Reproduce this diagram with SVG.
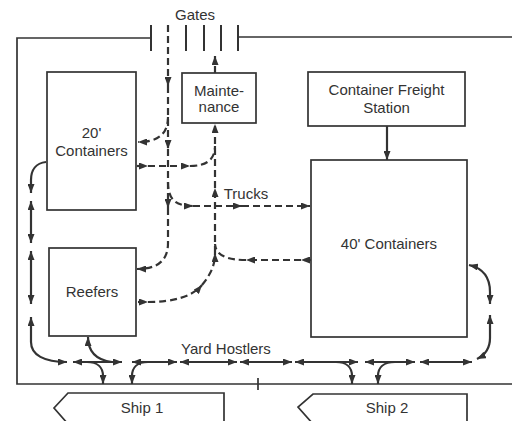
<svg xmlns="http://www.w3.org/2000/svg" width="512" height="421" viewBox="0 0 512 421">
<style>
.box{fill:#fff;stroke:#333;stroke-width:1.7}
.wall{fill:none;stroke:#333;stroke-width:1.7}
.post{stroke:#333;stroke-width:2}
.t{font-family:"Liberation Sans",Arial,sans-serif;font-size:15px;fill:#333;text-anchor:middle}
.truck{fill:none;stroke:#333;stroke-width:2.2;stroke-dasharray:7 4}
.yard{fill:none;stroke:#333;stroke-width:2.2}
.e{marker-end:url(#ah)}
.b{marker-start:url(#ah);marker-end:url(#ah)}
</style>
<defs>
<marker id="ah" viewBox="0 0 9 7" refX="9" refY="3.5" markerWidth="9" markerHeight="7" markerUnits="userSpaceOnUse" orient="auto-start-reverse">
<path d="M0,0 L9,3.5 L0,7 z" fill="#333"/>
</marker>
</defs>
<rect width="512" height="421" fill="#fff"/>

<g id="wall">
<path class="wall" d="M151,38 H17 V384 H512"/>
<path class="wall" d="M238,37 H512"/>
<path class="wall" d="M258,378 V390"/>
</g>

<g id="gates">
<line class="post" x1="151" y1="25" x2="151" y2="51"/>
<line class="post" x1="186" y1="25" x2="186" y2="51"/>
<line class="post" x1="204" y1="25" x2="204" y2="51"/>
<line class="post" x1="221" y1="25" x2="221" y2="51"/>
<line class="post" x1="238" y1="25" x2="238" y2="51"/>
<text class="t" x="195" y="20">Gates</text>
</g>

<g id="maintenance">
<rect class="box" x="182" y="73" width="74" height="50"/>
<text class="t" x="219" y="96">Mainte-</text>
<text class="t" x="219" y="112">nance</text>
</g>

<g id="c20">
<rect class="box" x="47" y="72" width="89" height="138"/>
<text class="t" x="91.5" y="138">20'</text>
<text class="t" x="91.5" y="156">Containers</text>
</g>

<g id="reefers">
<rect class="box" x="49" y="248" width="87" height="88"/>
<text class="t" x="92" y="297">Reefers</text>
</g>

<g id="cfs">
<rect class="box" x="308" y="72" width="157" height="54"/>
<text class="t" x="386.5" y="95">Container Freight</text>
<text class="t" x="386.5" y="113">Station</text>
</g>

<g id="c40">
<rect class="box" x="311" y="160" width="156" height="177"/>
<text class="t" x="389" y="249">40' Containers</text>
</g>

<g id="ship1">
<path class="box" d="M68,393 H224 V424 H68 L54,408 Z"/>
<text class="t" x="142" y="413">Ship 1</text>
</g>

<g id="ship2">
<path class="box" d="M313,394 H467 V424 H313 L298,407 Z"/>
<text class="t" x="387" y="413">Ship 2</text>
</g>

<g id="labels">
<text class="t" x="246" y="199">Trucks</text>
<text class="t" x="226" y="354">Yard Hostlers</text>
</g>

<g id="connectors">
<!-- trucks -->
<path class="truck e" d="M168,25 V86"/>
<path class="truck e" d="M168,86 V149"/>
<path class="truck e" d="M168,149 V208"/>
<path class="truck e" d="M168,208 V243 C168,261 157,269 137,269"/>
<path class="truck e" d="M168,117 C168,134 158,142 138,142"/>
<path class="truck e" d="M137,166 H148"/>
<path class="truck e" d="M148,166 H190"/>
<path class="truck" d="M190,166 C206,166 215,160 215,146"/>
<path class="truck e" d="M168,182 C168,199 175,206 193,206"/>
<path class="truck e" d="M193,206 H242"/>
<path class="truck e" d="M242,206 H310"/>
<path class="truck e" d="M311,260 H301"/>
<path class="truck e" d="M301,260 H246"/>
<path class="truck" d="M246,260 C228,260 216,256 215,244"/>
<path class="truck e" d="M138,302 H148"/>
<path class="truck e" d="M148,302 C172,302 192,297 202,285"/>
<path class="truck e" d="M202,285 C211,274 215,265 215,253"/>
<path class="truck e" d="M215,253 V188"/>
<path class="truck e" d="M215,188 V124"/>
<path class="truck e" d="M215,73 V56"/>
<!-- container freight station -->
<path class="yard e" d="M387,126 V160"/>
<!-- yard hostlers: left side -->
<path class="yard e" d="M46,162 C36,163 31,170 31,180 V193"/>
<path class="yard b" d="M31,201 V243"/>
<path class="yard b" d="M31,251 V304"/>
<path class="yard b" d="M31,317 V342 C31,355 44,362 67,362"/>
<!-- horizontal -->
<path class="yard b" d="M73,362 H122"/>
<path class="yard b" d="M132,362 H177"/>
<path class="yard b" d="M180,362 H237"/>
<path class="yard b" d="M240,362 H292"/>
<path class="yard b" d="M295,362 H358"/>
<path class="yard b" d="M365,362 H415"/>
<path class="yard b" d="M420,362 H472"/>
<!-- reefers bottom -->
<path class="yard" d="M88,337 C88,352 96,360 112,362" marker-start="url(#ah)"/>
<!-- ship 1 -->
<path class="yard e" d="M87,362 C98,362 103,368 103,376 V384"/>
<path class="yard e" d="M148,362 C137,362 132,368 132,376 V384"/>
<!-- ship 2 -->
<path class="yard e" d="M336,362 C347,362 352,368 352,376 V384"/>
<path class="yard e" d="M395,362 C383,362 378,368 378,376 V384"/>
<!-- right side -->
<path class="yard b" d="M490,304 V292 C490,276 482,268 469,265"/>
<path class="yard b" d="M490,315 V338 C490,349 485,355 477,359"/>
</g>
</svg>
